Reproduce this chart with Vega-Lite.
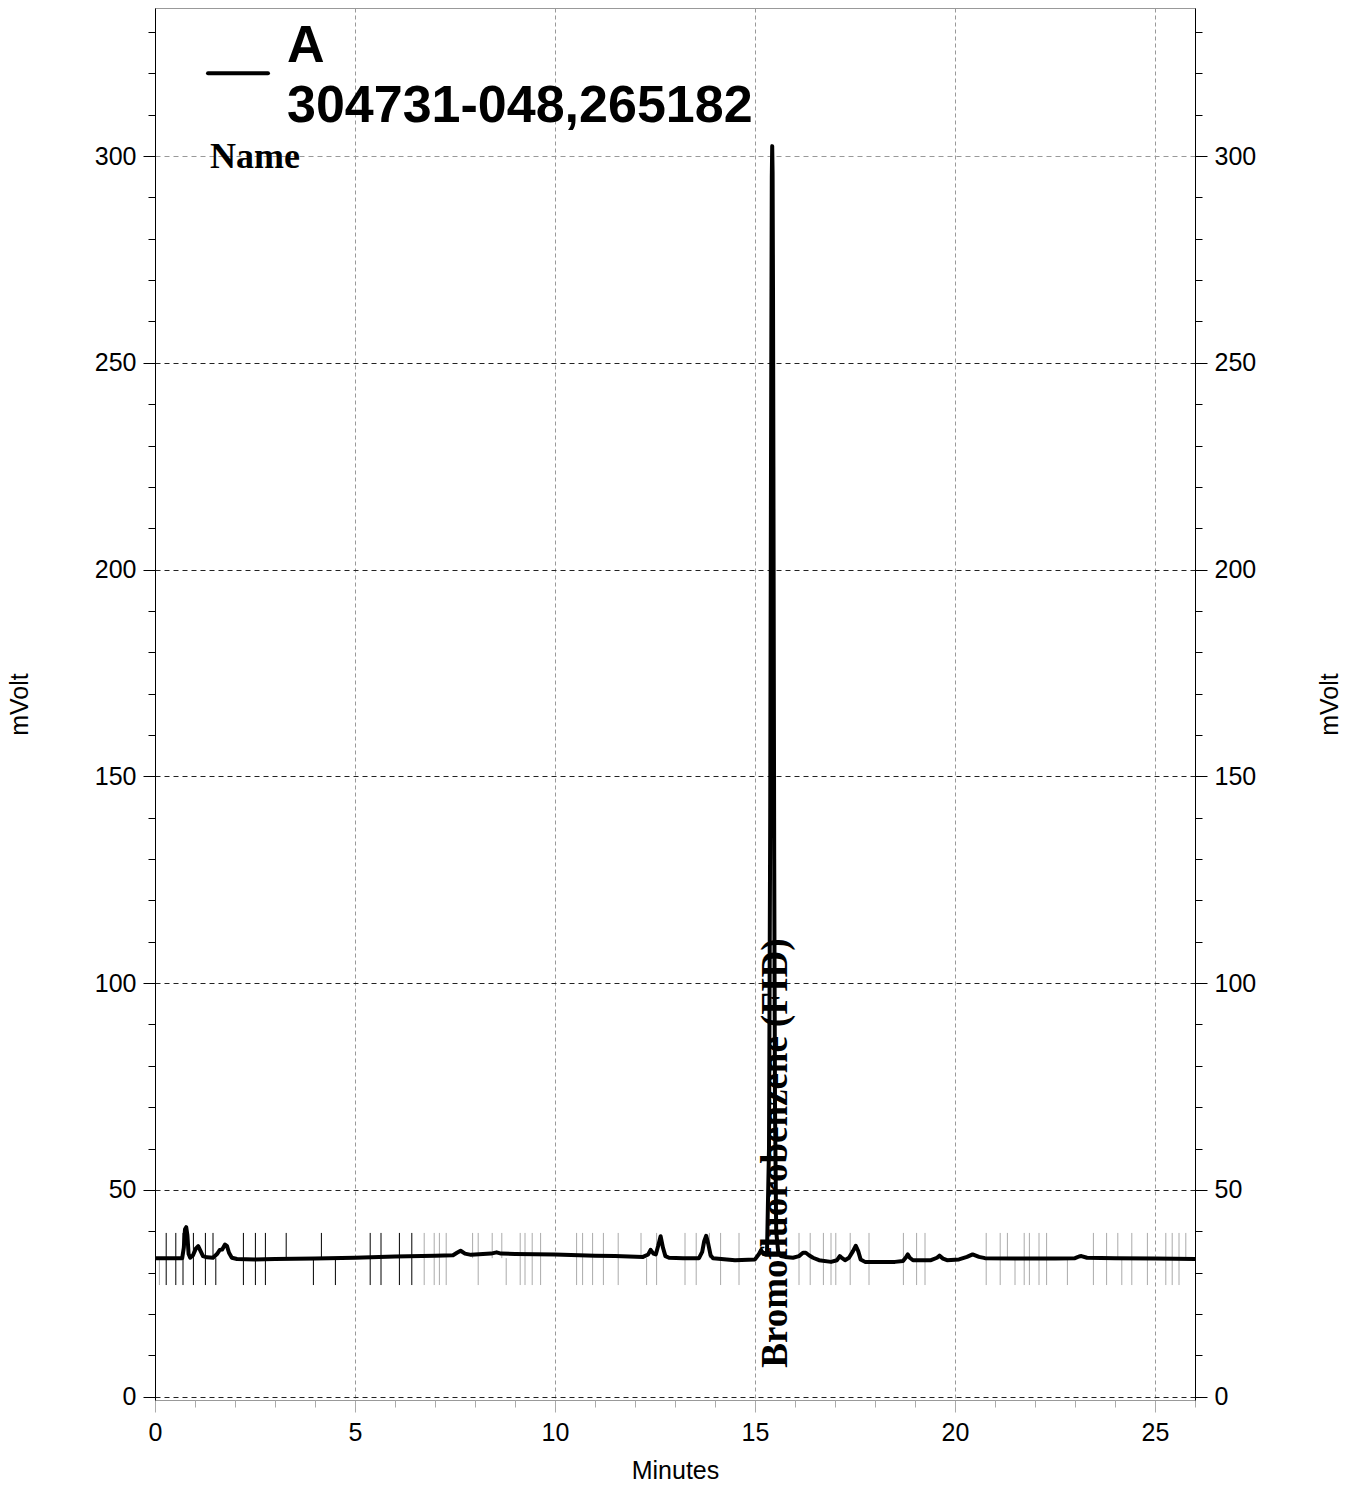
{
  "$schema": "https://vega.github.io/schema/vega-lite/v6.json",
  "width": 1040,
  "height": 1392,
  "autosize": {"type": "none"},
  "padding": {"left": 155, "top": 8, "right": 160, "bottom": 90},
  "background": "white",
  "config": {
    "view": {"stroke": "#999", "strokeWidth": 1},
    "font": "Liberation Sans"
  },
  "datasets": {
    "trace": [
      {"t": 0, "v": 33.5}, {"t": 0.5, "v": 33.5}, {"t": 0.68, "v": 33.5}, {"t": 0.72, "v": 36}, {"t": 0.75, "v": 40.5}, {"t": 0.78, "v": 41}, {"t": 0.81, "v": 39}, {"t": 0.84, "v": 34.5}, {"t": 0.88, "v": 33.6}, {"t": 0.95, "v": 34.2}, {"t": 1.02, "v": 35.8}, {"t": 1.08, "v": 36.4}, {"t": 1.14, "v": 35.2}, {"t": 1.2, "v": 34.0}, {"t": 1.3, "v": 33.7}, {"t": 1.45, "v": 33.6}, {"t": 1.55, "v": 34.5}, {"t": 1.62, "v": 35.5}, {"t": 1.68, "v": 35.6}, {"t": 1.75, "v": 36.8}, {"t": 1.8, "v": 36.4}, {"t": 1.85, "v": 34.8}, {"t": 1.92, "v": 33.6}, {"t": 2.05, "v": 33.3}, {"t": 2.5, "v": 33.2}, {"t": 3, "v": 33.3}, {"t": 4, "v": 33.4}, {"t": 5, "v": 33.6}, {"t": 6, "v": 33.9}, {"t": 7, "v": 34.1}, {"t": 7.45, "v": 34.2}, {"t": 7.55, "v": 34.8}, {"t": 7.64, "v": 35.3}, {"t": 7.75, "v": 34.6}, {"t": 7.9, "v": 34.3}, {"t": 8.2, "v": 34.5}, {"t": 8.4, "v": 34.6}, {"t": 8.54, "v": 34.9}, {"t": 8.65, "v": 34.6}, {"t": 9, "v": 34.5}, {"t": 10, "v": 34.4}, {"t": 11, "v": 34.1}, {"t": 11.5, "v": 34.0}, {"t": 12.2, "v": 33.8}, {"t": 12.33, "v": 34.4}, {"t": 12.39, "v": 35.5}, {"t": 12.46, "v": 34.6}, {"t": 12.52, "v": 34.4}, {"t": 12.58, "v": 36.5}, {"t": 12.64, "v": 38.8}, {"t": 12.7, "v": 36.0}, {"t": 12.76, "v": 34.0}, {"t": 12.85, "v": 33.6}, {"t": 13.2, "v": 33.5}, {"t": 13.6, "v": 33.5}, {"t": 13.68, "v": 35}, {"t": 13.73, "v": 37.6}, {"t": 13.78, "v": 38.9}, {"t": 13.83, "v": 37.0}, {"t": 13.89, "v": 34.2}, {"t": 13.95, "v": 33.5}, {"t": 14.5, "v": 33.0}, {"t": 15.0, "v": 33.2}, {"t": 15.1, "v": 34.5}, {"t": 15.15, "v": 35.4}, {"t": 15.22, "v": 34.5}, {"t": 15.3, "v": 35}, {"t": 15.35, "v": 60}, {"t": 15.38, "v": 140}, {"t": 15.4, "v": 225}, {"t": 15.41, "v": 262}, {"t": 15.42, "v": 295}, {"t": 15.43, "v": 302.4}, {"t": 15.44, "v": 296}, {"t": 15.45, "v": 268}, {"t": 15.46, "v": 225}, {"t": 15.48, "v": 130}, {"t": 15.5, "v": 70}, {"t": 15.53, "v": 40}, {"t": 15.58, "v": 35}, {"t": 15.65, "v": 34}, {"t": 15.75, "v": 33.8}, {"t": 15.95, "v": 33.6}, {"t": 16.1, "v": 34.0}, {"t": 16.2, "v": 34.8}, {"t": 16.27, "v": 34.8}, {"t": 16.35, "v": 34.2}, {"t": 16.45, "v": 33.6}, {"t": 16.6, "v": 33.0}, {"t": 16.9, "v": 32.6}, {"t": 17.05, "v": 33.0}, {"t": 17.12, "v": 34.0}, {"t": 17.18, "v": 33.5}, {"t": 17.25, "v": 33.0}, {"t": 17.35, "v": 33.6}, {"t": 17.45, "v": 35.2}, {"t": 17.52, "v": 36.5}, {"t": 17.58, "v": 35.2}, {"t": 17.64, "v": 33.2}, {"t": 17.75, "v": 32.6}, {"t": 18.5, "v": 32.6}, {"t": 18.7, "v": 32.8}, {"t": 18.78, "v": 33.8}, {"t": 18.82, "v": 34.4}, {"t": 18.87, "v": 33.6}, {"t": 18.95, "v": 33.0}, {"t": 19.4, "v": 33.0}, {"t": 19.55, "v": 33.6}, {"t": 19.61, "v": 34.1}, {"t": 19.7, "v": 33.4}, {"t": 19.8, "v": 33.0}, {"t": 20.1, "v": 33.2}, {"t": 20.3, "v": 33.8}, {"t": 20.44, "v": 34.4}, {"t": 20.6, "v": 33.8}, {"t": 20.75, "v": 33.5}, {"t": 21.5, "v": 33.4}, {"t": 22.5, "v": 33.4}, {"t": 23.0, "v": 33.5}, {"t": 23.1, "v": 33.9}, {"t": 23.16, "v": 34.0}, {"t": 23.3, "v": 33.6}, {"t": 24, "v": 33.5}, {"t": 25, "v": 33.4}, {"t": 26, "v": 33.3}
    ],
    "marks": [
      {"t": 0.11, "lo": 27, "hi": 33.5, "c": "g"},
      {"t": 0.28, "lo": 27, "hi": 39.6, "c": "k"},
      {"t": 0.52, "lo": 27, "hi": 39.6, "c": "k"},
      {"t": 0.70, "lo": 27, "hi": 39.6, "c": "k"},
      {"t": 0.96, "lo": 27, "hi": 39.6, "c": "k"},
      {"t": 1.26, "lo": 27, "hi": 39.6, "c": "k"},
      {"t": 1.45, "lo": 33.5, "hi": 39.6, "c": "k"},
      {"t": 1.52, "lo": 27, "hi": 33.5, "c": "k"},
      {"t": 2.21, "lo": 27, "hi": 39.6, "c": "k"},
      {"t": 2.51, "lo": 27, "hi": 39.6, "c": "k"},
      {"t": 2.76, "lo": 27, "hi": 39.6, "c": "k"},
      {"t": 3.28, "lo": 33.5, "hi": 39.6, "c": "k"},
      {"t": 3.96, "lo": 27, "hi": 33.5, "c": "k"},
      {"t": 4.16, "lo": 33.5, "hi": 39.6, "c": "k"},
      {"t": 4.51, "lo": 27, "hi": 33.5, "c": "k"},
      {"t": 5.38, "lo": 27, "hi": 39.6, "c": "k"},
      {"t": 5.65, "lo": 27, "hi": 39.6, "c": "k"},
      {"t": 6.11, "lo": 27, "hi": 39.6, "c": "k"},
      {"t": 6.42, "lo": 27, "hi": 39.6, "c": "k"},
      {"t": 6.73, "lo": 27, "hi": 39.6, "c": "g"},
      {"t": 6.98, "lo": 27, "hi": 39.6, "c": "g"},
      {"t": 7.11, "lo": 27, "hi": 39.6, "c": "g"},
      {"t": 7.28, "lo": 27, "hi": 39.6, "c": "g"},
      {"t": 7.94, "lo": 33.5, "hi": 39.6, "c": "g"},
      {"t": 8.08, "lo": 27, "hi": 39.6, "c": "g"},
      {"t": 8.43, "lo": 33.5, "hi": 39.6, "c": "g"},
      {"t": 8.67, "lo": 33.5, "hi": 39.6, "c": "g"},
      {"t": 8.78, "lo": 27, "hi": 33.5, "c": "g"},
      {"t": 9.13, "lo": 27, "hi": 39.6, "c": "g"},
      {"t": 9.25, "lo": 27, "hi": 39.6, "c": "g"},
      {"t": 9.43, "lo": 27, "hi": 39.6, "c": "g"},
      {"t": 9.64, "lo": 27, "hi": 39.6, "c": "g"},
      {"t": 10.54, "lo": 27, "hi": 39.6, "c": "g"},
      {"t": 10.69, "lo": 27, "hi": 39.6, "c": "g"},
      {"t": 10.94, "lo": 27, "hi": 39.6, "c": "g"},
      {"t": 11.21, "lo": 27, "hi": 39.6, "c": "g"},
      {"t": 11.58, "lo": 27, "hi": 39.6, "c": "g"},
      {"t": 12.15, "lo": 33.5, "hi": 39.6, "c": "g"},
      {"t": 12.29, "lo": 27, "hi": 33.5, "c": "g"},
      {"t": 12.54, "lo": 27, "hi": 39.6, "c": "g"},
      {"t": 13.25, "lo": 27, "hi": 39.6, "c": "g"},
      {"t": 13.53, "lo": 27, "hi": 39.6, "c": "g"},
      {"t": 13.86, "lo": 33.5, "hi": 39.6, "c": "g"},
      {"t": 14.14, "lo": 27, "hi": 39.6, "c": "g"},
      {"t": 14.6, "lo": 27, "hi": 39.6, "c": "g"},
      {"t": 16.1, "lo": 27, "hi": 39.6, "c": "g"},
      {"t": 16.38, "lo": 27, "hi": 39.6, "c": "g"},
      {"t": 16.71, "lo": 27, "hi": 39.6, "c": "g"},
      {"t": 16.9, "lo": 27, "hi": 39.6, "c": "g"},
      {"t": 17.02, "lo": 27, "hi": 39.6, "c": "g"},
      {"t": 17.38, "lo": 27, "hi": 39.6, "c": "g"},
      {"t": 17.85, "lo": 27, "hi": 39.6, "c": "g"},
      {"t": 18.71, "lo": 27, "hi": 39.6, "c": "g"},
      {"t": 19.04, "lo": 27, "hi": 39.6, "c": "g"},
      {"t": 19.25, "lo": 27, "hi": 39.6, "c": "g"},
      {"t": 20.78, "lo": 27, "hi": 39.6, "c": "g"},
      {"t": 21.13, "lo": 27, "hi": 39.6, "c": "g"},
      {"t": 21.31, "lo": 33.5, "hi": 39.6, "c": "g"},
      {"t": 21.5, "lo": 27, "hi": 33.5, "c": "g"},
      {"t": 21.73, "lo": 27, "hi": 39.6, "c": "g"},
      {"t": 21.86, "lo": 27, "hi": 39.6, "c": "g"},
      {"t": 22.1, "lo": 27, "hi": 39.6, "c": "g"},
      {"t": 22.29, "lo": 27, "hi": 39.6, "c": "g"},
      {"t": 22.81, "lo": 27, "hi": 33.5, "c": "g"},
      {"t": 23.46, "lo": 27, "hi": 39.6, "c": "g"},
      {"t": 23.79, "lo": 27, "hi": 39.6, "c": "g"},
      {"t": 24.07, "lo": 33.5, "hi": 39.6, "c": "g"},
      {"t": 24.17, "lo": 27, "hi": 33.5, "c": "g"},
      {"t": 24.42, "lo": 27, "hi": 39.6, "c": "g"},
      {"t": 24.81, "lo": 27, "hi": 39.6, "c": "g"},
      {"t": 25.27, "lo": 27, "hi": 39.6, "c": "g"},
      {"t": 25.43, "lo": 27, "hi": 39.6, "c": "g"},
      {"t": 25.6, "lo": 27, "hi": 39.6, "c": "g"},
      {"t": 25.77, "lo": 33.5, "hi": 39.6, "c": "g"}
    ]
  },
  "resolve": {"axis": {"y": "independent", "x": "independent"}},
  "layer": [
    {
      "data": {"name": "marks"},
      "mark": {"type": "rule", "strokeWidth": 1},
      "encoding": {
        "x": {"field": "t", "type": "quantitative", "scale": {"domain": [0, 26], "nice": false, "zero": false},
          "axis": {
            "orient": "bottom",
            "values": [0, 5, 10, 15, 20, 25],
            "labelFlush": false,
            "tickSize": 12,
            "tickColor": "#aaa",
            "domainColor": "#999",
            "grid": true,
            "gridColor": "#999",
            "gridDash": [4, 3],
            "labelFontSize": 25,
            "labelColor": "#000",
            "labelPadding": 8,
            "title": "Minutes",
            "titleFontSize": 25,
            "titleFontWeight": "normal",
            "titleColor": "#000",
            "titlePadding": 13
          }
        },
        "y": {"field": "lo", "type": "quantitative", "scale": {"domain": [-0.8, 335.8], "nice": false, "zero": false},
          "axis": {
            "orient": "right",
            "values": [0,10,20,30,40,50,60,70,80,90,100,110,120,130,140,150,160,170,180,190,200,210,220,230,240,250,260,270,280,290,300,310,320,330],
            "labelExpr": "datum.value % 50 === 0 ? datum.label : ''",
            "labelOverlap": false,
            "tickSize": {"condition": {"test": "datum.value % 50 === 0", "value": 12}, "value": 7},
            "tickColor": "#000",
            "domainColor": "#000",
            "grid": false,
            "labelFontSize": 25,
            "labelColor": "#000",
            "labelPadding": 7,
            "title": "mVolt",
            "titleAngle": 270,
            "titleFontSize": 25,
            "titleFontWeight": "normal",
            "titleColor": "#000",
            "titlePadding": 87
          }
        },
        "y2": {"field": "hi"},
        "color": {"field": "c", "type": "nominal", "scale": {"domain": ["k", "g"], "range": ["#000000", "#aaaaaa"]}, "legend": null}
      }
    },
    {
      "data": {"name": "trace"},
      "mark": {"type": "line", "color": "#000", "strokeWidth": 4, "strokeJoin": "round"},
      "encoding": {
        "x": {"field": "t", "type": "quantitative", "scale": {"domain": [0, 26], "nice": false, "zero": false},
          "axis": {
            "orient": "bottom",
            "values": [1,2,3,4,6,7,8,9,11,12,13,14,16,17,18,19,21,22,23,24,26],
            "labels": false,
            "domain": false,
            "grid": false,
            "tickSize": 7,
            "tickColor": "#aaa",
            "title": null
          }
        },
        "y": {"field": "v", "type": "quantitative", "scale": {"domain": [-0.8, 335.8], "nice": false, "zero": false},
          "axis": {
            "orient": "left",
            "values": [0,10,20,30,40,50,60,70,80,90,100,110,120,130,140,150,160,170,180,190,200,210,220,230,240,250,260,270,280,290,300,310,320,330],
            "labelExpr": "datum.value % 50 === 0 ? datum.label : ''",
            "labelOverlap": false,
            "tickSize": {"condition": {"test": "datum.value % 50 === 0", "value": 12}, "value": 7},
            "tickColor": "#000",
            "domainColor": "#000",
            "grid": true,
            "gridColor": {"condition": {"test": "datum.value === 300", "value": "#999"}, "value": "#222"},
            "gridDash": [5, 4],
            "gridOpacity": {"condition": {"test": "datum.value % 50 === 0", "value": 1}, "value": 0},
            "labelFontSize": 25,
            "labelColor": "#000",
            "labelPadding": 7,
            "title": "mVolt",
            "titleFontSize": 25,
            "titleFontWeight": "normal",
            "titleColor": "#000",
            "titlePadding": 62
          }
        }
      }
    },
    {
      "data": {"values": [{"t1": 1.325, "t2": 2.825, "v": 320}]},
      "mark": {"type": "rule", "color": "#000", "strokeWidth": 4, "strokeCap": "round"},
      "encoding": {
        "x": {"field": "t1", "type": "quantitative", "scale": {"domain": [0, 26], "nice": false, "zero": false}, "axis": null},
        "x2": {"field": "t2"},
        "y": {"field": "v", "type": "quantitative", "scale": {"domain": [-0.8, 335.8], "nice": false, "zero": false}, "axis": null}
      }
    },
    {
      "data": {"values": [{"t": 3.3, "v": 322.7, "label": "A"}, {"t": 3.3, "v": 308.2, "label": "304731-048,265182"}]},
      "mark": {"type": "text", "font": "Liberation Sans", "fontWeight": "bold", "fontSize": 52, "align": "left", "baseline": "alphabetic", "color": "#000"},
      "encoding": {
        "x": {"field": "t", "type": "quantitative", "scale": {"domain": [0, 26], "nice": false, "zero": false}, "axis": null},
        "y": {"field": "v", "type": "quantitative", "scale": {"domain": [-0.8, 335.8], "nice": false, "zero": false}, "axis": null},
        "text": {"field": "label"}
      }
    },
    {
      "data": {"values": [{"t": 1.375, "v": 297.1, "label": "Name"}]},
      "mark": {"type": "text", "font": "Liberation Serif", "fontWeight": "bold", "fontSize": 36, "align": "left", "baseline": "alphabetic", "color": "#000"},
      "encoding": {
        "x": {"field": "t", "type": "quantitative", "scale": {"domain": [0, 26], "nice": false, "zero": false}, "axis": null},
        "y": {"field": "v", "type": "quantitative", "scale": {"domain": [-0.8, 335.8], "nice": false, "zero": false}, "axis": null},
        "text": {"field": "label"}
      }
    },
    {
      "data": {"values": [{"t": 15.43, "v": 7, "label": "Bromofluorobenzene (FID)"}]},
      "mark": {"type": "text", "font": "Liberation Serif", "fontWeight": "bold", "fontSize": 37, "angle": 270, "align": "left", "baseline": "middle", "dy": 4, "color": "#000"},
      "encoding": {
        "x": {"field": "t", "type": "quantitative", "scale": {"domain": [0, 26], "nice": false, "zero": false}, "axis": null},
        "y": {"field": "v", "type": "quantitative", "scale": {"domain": [-0.8, 335.8], "nice": false, "zero": false}, "axis": null},
        "text": {"field": "label"}
      }
    }
  ]
}
